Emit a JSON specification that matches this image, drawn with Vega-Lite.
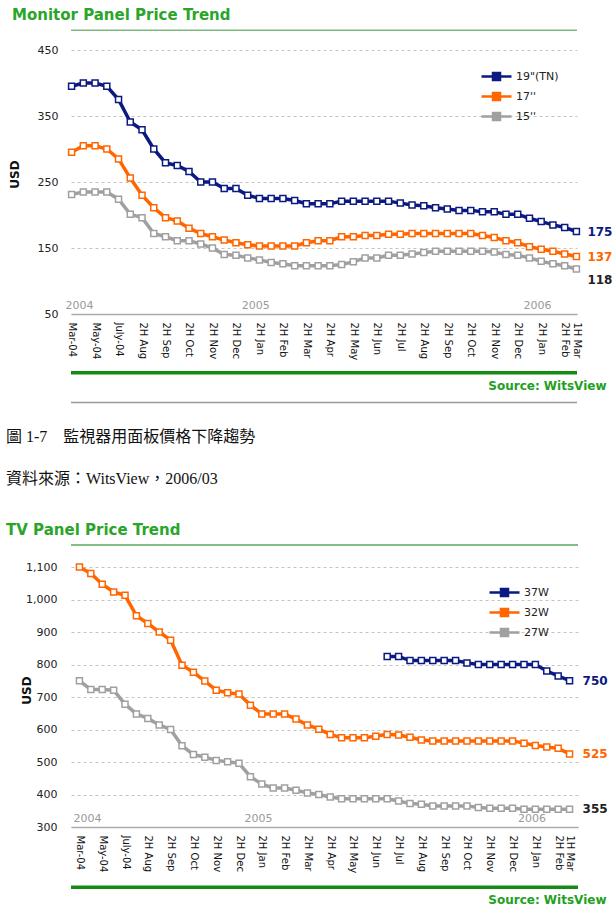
{
  "$schema": "https://vega.github.io/schema/vega-lite/v6.json",
  "background": "white",
  "padding": {"left": 6, "top": 8, "right": 0, "bottom": 0},
  "columns": 1,
  "spacing": 25,
  "resolve": {"scale": {"color": "independent"}, "legend": {"color": "independent"}},
  "config": {"view": {"stroke": null}},
  "datasets": {
    "monitor": [
      {"period":"Mar-04","size":"19\"(TN)","price":395},{"period":"Apr-04","size":"19\"(TN)","price":400},{"period":"May-04","size":"19\"(TN)","price":400},{"period":"Jun-04","size":"19\"(TN)","price":395},{"period":"July-04","size":"19\"(TN)","price":375},{"period":"1H Aug 04","size":"19\"(TN)","price":341},{"period":"2H Aug 04","size":"19\"(TN)","price":329},{"period":"1H Sep 04","size":"19\"(TN)","price":300},{"period":"2H Sep 04","size":"19\"(TN)","price":279},{"period":"1H Oct 04","size":"19\"(TN)","price":275},{"period":"2H Oct 04","size":"19\"(TN)","price":266},{"period":"1H Nov 04","size":"19\"(TN)","price":250},{"period":"2H Nov 04","size":"19\"(TN)","price":250},{"period":"1H Dec 04","size":"19\"(TN)","price":240},{"period":"2H Dec 04","size":"19\"(TN)","price":240},{"period":"1H Jan 05","size":"19\"(TN)","price":230},{"period":"2H Jan 05","size":"19\"(TN)","price":225},{"period":"1H Feb 05","size":"19\"(TN)","price":225},{"period":"2H Feb 05","size":"19\"(TN)","price":225},{"period":"1H Mar 05","size":"19\"(TN)","price":222},{"period":"2H Mar 05","size":"19\"(TN)","price":217},{"period":"1H Apr 05","size":"19\"(TN)","price":217},{"period":"2H Apr 05","size":"19\"(TN)","price":217},{"period":"1H May 05","size":"19\"(TN)","price":221},{"period":"2H May 05","size":"19\"(TN)","price":221},{"period":"1H Jun 05","size":"19\"(TN)","price":221},{"period":"2H Jun 05","size":"19\"(TN)","price":221},{"period":"1H Jul 05","size":"19\"(TN)","price":221},{"period":"2H Jul 05","size":"19\"(TN)","price":218},{"period":"1H Aug 05","size":"19\"(TN)","price":215},{"period":"2H Aug 05","size":"19\"(TN)","price":214},{"period":"1H Sep 05","size":"19\"(TN)","price":211},{"period":"2H Sep 05","size":"19\"(TN)","price":209},{"period":"1H Oct 05","size":"19\"(TN)","price":207},{"period":"2H Oct 05","size":"19\"(TN)","price":207},{"period":"1H Nov 05","size":"19\"(TN)","price":205},{"period":"2H Nov 05","size":"19\"(TN)","price":205},{"period":"1H Dec 05","size":"19\"(TN)","price":201},{"period":"2H Dec 05","size":"19\"(TN)","price":201},{"period":"1H Jan 06","size":"19\"(TN)","price":195},{"period":"2H Jan 06","size":"19\"(TN)","price":190},{"period":"1H Feb 06","size":"19\"(TN)","price":185},{"period":"2H Feb 06","size":"19\"(TN)","price":181},{"period":"1H Mar 06","size":"19\"(TN)","price":175},
      {"period":"Mar-04","size":"17''","price":295},{"period":"Apr-04","size":"17''","price":305},{"period":"May-04","size":"17''","price":305},{"period":"Jun-04","size":"17''","price":300},{"period":"July-04","size":"17''","price":285},{"period":"1H Aug 04","size":"17''","price":256},{"period":"2H Aug 04","size":"17''","price":230},{"period":"1H Sep 04","size":"17''","price":211},{"period":"2H Sep 04","size":"17''","price":196},{"period":"1H Oct 04","size":"17''","price":191},{"period":"2H Oct 04","size":"17''","price":180},{"period":"1H Nov 04","size":"17''","price":172},{"period":"2H Nov 04","size":"17''","price":167},{"period":"1H Dec 04","size":"17''","price":162},{"period":"2H Dec 04","size":"17''","price":158},{"period":"1H Jan 05","size":"17''","price":155},{"period":"2H Jan 05","size":"17''","price":153},{"period":"1H Feb 05","size":"17''","price":153},{"period":"2H Feb 05","size":"17''","price":153},{"period":"1H Mar 05","size":"17''","price":153},{"period":"2H Mar 05","size":"17''","price":158},{"period":"1H Apr 05","size":"17''","price":161},{"period":"2H Apr 05","size":"17''","price":161},{"period":"1H May 05","size":"17''","price":167},{"period":"2H May 05","size":"17''","price":167},{"period":"1H Jun 05","size":"17''","price":169},{"period":"2H Jun 05","size":"17''","price":169},{"period":"1H Jul 05","size":"17''","price":171},{"period":"2H Jul 05","size":"17''","price":171},{"period":"1H Aug 05","size":"17''","price":172},{"period":"2H Aug 05","size":"17''","price":172},{"period":"1H Sep 05","size":"17''","price":172},{"period":"2H Sep 05","size":"17''","price":172},{"period":"1H Oct 05","size":"17''","price":172},{"period":"2H Oct 05","size":"17''","price":172},{"period":"1H Nov 05","size":"17''","price":169},{"period":"2H Nov 05","size":"17''","price":166},{"period":"1H Dec 05","size":"17''","price":161},{"period":"2H Dec 05","size":"17''","price":158},{"period":"1H Jan 06","size":"17''","price":152},{"period":"2H Jan 06","size":"17''","price":148},{"period":"1H Feb 06","size":"17''","price":145},{"period":"2H Feb 06","size":"17''","price":141},{"period":"1H Mar 06","size":"17''","price":137},
      {"period":"Mar-04","size":"15''","price":231},{"period":"Apr-04","size":"15''","price":235},{"period":"May-04","size":"15''","price":235},{"period":"Jun-04","size":"15''","price":235},{"period":"July-04","size":"15''","price":224},{"period":"1H Aug 04","size":"15''","price":201},{"period":"2H Aug 04","size":"15''","price":196},{"period":"1H Sep 04","size":"15''","price":172},{"period":"2H Sep 04","size":"15''","price":167},{"period":"1H Oct 04","size":"15''","price":161},{"period":"2H Oct 04","size":"15''","price":161},{"period":"1H Nov 04","size":"15''","price":156},{"period":"2H Nov 04","size":"15''","price":150},{"period":"1H Dec 04","size":"15''","price":140},{"period":"2H Dec 04","size":"15''","price":139},{"period":"1H Jan 05","size":"15''","price":135},{"period":"2H Jan 05","size":"15''","price":132},{"period":"1H Feb 05","size":"15''","price":128},{"period":"2H Feb 05","size":"15''","price":126},{"period":"1H Mar 05","size":"15''","price":123},{"period":"2H Mar 05","size":"15''","price":123},{"period":"1H Apr 05","size":"15''","price":123},{"period":"2H Apr 05","size":"15''","price":123},{"period":"1H May 05","size":"15''","price":125},{"period":"2H May 05","size":"15''","price":129},{"period":"1H Jun 05","size":"15''","price":135},{"period":"2H Jun 05","size":"15''","price":135},{"period":"1H Jul 05","size":"15''","price":139},{"period":"2H Jul 05","size":"15''","price":139},{"period":"1H Aug 05","size":"15''","price":141},{"period":"2H Aug 05","size":"15''","price":143},{"period":"1H Sep 05","size":"15''","price":145},{"period":"2H Sep 05","size":"15''","price":145},{"period":"1H Oct 05","size":"15''","price":145},{"period":"2H Oct 05","size":"15''","price":145},{"period":"1H Nov 05","size":"15''","price":145},{"period":"2H Nov 05","size":"15''","price":144},{"period":"1H Dec 05","size":"15''","price":140},{"period":"2H Dec 05","size":"15''","price":139},{"period":"1H Jan 06","size":"15''","price":135},{"period":"2H Jan 06","size":"15''","price":130},{"period":"1H Feb 06","size":"15''","price":126},{"period":"2H Feb 06","size":"15''","price":123},{"period":"1H Mar 06","size":"15''","price":118}
    ],
    "tv": [
      {"period":"Mar-04","size":"32W","price":1100},{"period":"Apr-04","size":"32W","price":1080},{"period":"May-04","size":"32W","price":1047},{"period":"Jun-04","size":"32W","price":1023},{"period":"July-04","size":"32W","price":1013},{"period":"1H Aug 04","size":"32W","price":950},{"period":"2H Aug 04","size":"32W","price":926},{"period":"1H Sep 04","size":"32W","price":900},{"period":"2H Sep 04","size":"32W","price":875},{"period":"1H Oct 04","size":"32W","price":798},{"period":"2H Oct 04","size":"32W","price":776},{"period":"1H Nov 04","size":"32W","price":749},{"period":"2H Nov 04","size":"32W","price":721},{"period":"1H Dec 04","size":"32W","price":713},{"period":"2H Dec 04","size":"32W","price":709},{"period":"1H Jan 05","size":"32W","price":675},{"period":"2H Jan 05","size":"32W","price":648},{"period":"1H Feb 05","size":"32W","price":648},{"period":"2H Feb 05","size":"32W","price":648},{"period":"1H Mar 05","size":"32W","price":632},{"period":"2H Mar 05","size":"32W","price":614},{"period":"1H Apr 05","size":"32W","price":601},{"period":"2H Apr 05","size":"32W","price":585},{"period":"1H May 05","size":"32W","price":575},{"period":"2H May 05","size":"32W","price":575},{"period":"1H Jun 05","size":"32W","price":575},{"period":"2H Jun 05","size":"32W","price":579},{"period":"1H Jul 05","size":"32W","price":585},{"period":"2H Jul 05","size":"32W","price":583},{"period":"1H Aug 05","size":"32W","price":576},{"period":"2H Aug 05","size":"32W","price":568},{"period":"1H Sep 05","size":"32W","price":565},{"period":"2H Sep 05","size":"32W","price":565},{"period":"1H Oct 05","size":"32W","price":565},{"period":"2H Oct 05","size":"32W","price":565},{"period":"1H Nov 05","size":"32W","price":565},{"period":"2H Nov 05","size":"32W","price":565},{"period":"1H Dec 05","size":"32W","price":565},{"period":"2H Dec 05","size":"32W","price":565},{"period":"1H Jan 06","size":"32W","price":558},{"period":"2H Jan 06","size":"32W","price":551},{"period":"1H Feb 06","size":"32W","price":546},{"period":"2H Feb 06","size":"32W","price":542},{"period":"1H Mar 06","size":"32W","price":525},
      {"period":"Mar-04","size":"27W","price":750},{"period":"Apr-04","size":"27W","price":723},{"period":"May-04","size":"27W","price":723},{"period":"Jun-04","size":"27W","price":721},{"period":"July-04","size":"27W","price":678},{"period":"1H Aug 04","size":"27W","price":648},{"period":"2H Aug 04","size":"27W","price":634},{"period":"1H Sep 04","size":"27W","price":614},{"period":"2H Sep 04","size":"27W","price":600},{"period":"1H Oct 04","size":"27W","price":550},{"period":"2H Oct 04","size":"27W","price":523},{"period":"1H Nov 04","size":"27W","price":515},{"period":"2H Nov 04","size":"27W","price":505},{"period":"1H Dec 04","size":"27W","price":501},{"period":"2H Dec 04","size":"27W","price":496},{"period":"1H Jan 05","size":"27W","price":455},{"period":"2H Jan 05","size":"27W","price":432},{"period":"1H Feb 05","size":"27W","price":420},{"period":"2H Feb 05","size":"27W","price":420},{"period":"1H Mar 05","size":"27W","price":413},{"period":"2H Mar 05","size":"27W","price":405},{"period":"1H Apr 05","size":"27W","price":400},{"period":"2H Apr 05","size":"27W","price":392},{"period":"1H May 05","size":"27W","price":387},{"period":"2H May 05","size":"27W","price":387},{"period":"1H Jun 05","size":"27W","price":387},{"period":"2H Jun 05","size":"27W","price":387},{"period":"1H Jul 05","size":"27W","price":387},{"period":"2H Jul 05","size":"27W","price":380},{"period":"1H Aug 05","size":"27W","price":372},{"period":"2H Aug 05","size":"27W","price":370},{"period":"1H Sep 05","size":"27W","price":365},{"period":"2H Sep 05","size":"27W","price":365},{"period":"1H Oct 05","size":"27W","price":365},{"period":"2H Oct 05","size":"27W","price":365},{"period":"1H Nov 05","size":"27W","price":360},{"period":"2H Nov 05","size":"27W","price":358},{"period":"1H Dec 05","size":"27W","price":358},{"period":"2H Dec 05","size":"27W","price":358},{"period":"1H Jan 06","size":"27W","price":355},{"period":"2H Jan 06","size":"27W","price":355},{"period":"1H Feb 06","size":"27W","price":355},{"period":"2H Feb 06","size":"27W","price":355},{"period":"1H Mar 06","size":"27W","price":355},
      {"period":"1H Jul 05","size":"37W","price":825},{"period":"2H Jul 05","size":"37W","price":825},{"period":"1H Aug 05","size":"37W","price":812},{"period":"2H Aug 05","size":"37W","price":812},{"period":"1H Sep 05","size":"37W","price":812},{"period":"2H Sep 05","size":"37W","price":812},{"period":"1H Oct 05","size":"37W","price":812},{"period":"2H Oct 05","size":"37W","price":805},{"period":"1H Nov 05","size":"37W","price":800},{"period":"2H Nov 05","size":"37W","price":800},{"period":"1H Dec 05","size":"37W","price":800},{"period":"2H Dec 05","size":"37W","price":800},{"period":"1H Jan 06","size":"37W","price":800},{"period":"2H Jan 06","size":"37W","price":800},{"period":"1H Feb 06","size":"37W","price":780},{"period":"2H Feb 06","size":"37W","price":765},{"period":"1H Mar 06","size":"37W","price":750}
    ]
  },
  "concat": [
    {
      "width": 506,
      "height": 264,
      "title": {"text": "Monitor Panel Price Trend", "anchor": "start", "frame": "bounds", "dx": 4, "font": "DejaVu Sans", "fontSize": 15, "fontWeight": "bold", "color": "#2aa52a", "offset": 6},
      "resolve": {"axis": {"y": "independent"}},
      "layer": [
        {
          "data": {"name": "monitor"},
          "resolve": {"axis": {"y": "independent"}},
          "encoding": {
            "x": {
              "field": "period", "type": "ordinal",
              "scale": {"type": "point", "padding": 0.05, "domain": ["Mar-04","Apr-04","May-04","Jun-04","July-04","1H Aug 04","2H Aug 04","1H Sep 04","2H Sep 04","1H Oct 04","2H Oct 04","1H Nov 04","2H Nov 04","1H Dec 04","2H Dec 04","1H Jan 05","2H Jan 05","1H Feb 05","2H Feb 05","1H Mar 05","2H Mar 05","1H Apr 05","2H Apr 05","1H May 05","2H May 05","1H Jun 05","2H Jun 05","1H Jul 05","2H Jul 05","1H Aug 05","2H Aug 05","1H Sep 05","2H Sep 05","1H Oct 05","2H Oct 05","1H Nov 05","2H Nov 05","1H Dec 05","2H Dec 05","1H Jan 06","2H Jan 06","1H Feb 06","2H Feb 06","1H Mar 06"]},
              "axis": {
                "values": ["Mar-04","May-04","July-04","2H Aug 04","2H Sep 04","2H Oct 04","2H Nov 04","2H Dec 04","2H Jan 05","2H Feb 05","2H Mar 05","2H Apr 05","2H May 05","2H Jun 05","2H Jul 05","2H Aug 05","2H Sep 05","2H Oct 05","2H Nov 05","2H Dec 05","2H Jan 06","2H Feb 06","1H Mar 06"],
                "labelExpr": "indexof(datum.value, 'H ') == 1 ? substring(datum.value, 0, 6) : datum.value",
                "labelAngle": 90, "labelAlign": "left", "labelBaseline": "middle", "labelPadding": 8,
                "labelFont": "DejaVu Sans", "labelFontSize": 10, "labelColor": "#111111", "labelOverlap": false,
                "ticks": false, "grid": false, "domainColor": "#aaaaaa", "domainWidth": 1.5,
                "title": "Source: WitsView", "titleColor": "#22a022", "titleFont": "DejaVu Sans", "titleFontSize": 12, "titleFontWeight": "bold",
                "titleAlign": "right", "titleBaseline": "middle", "titleX": 535, "titleY": 71
              }
            }
          },
          "layer": [
            {
              "mark": {"type": "line", "strokeWidth": 3.5, "point": {"shape": "square", "filled": false, "fill": "white", "size": 36, "strokeWidth": 1.5, "opacity": 1}},
              "encoding": {
                "y": {
                  "field": "price", "type": "quantitative",
                  "scale": {"domain": [50, 450], "nice": false, "zero": false},
                  "axis": {
                    "values": [50, 150, 250, 350, 450], "format": ",.0f", "domain": false, "ticks": false,
                    "grid": true, "gridDash": [3, 3], "gridColor": "#c4c4c4",
                    "labelFont": "DejaVu Sans", "labelFontSize": 11, "labelColor": "#222222", "labelPadding": 13,
                    "title": "USD", "titleAlign": "center", "titleBaseline": "middle", "titleX": -57, "titleY": 124,
                    "titleFont": "DejaVu Sans", "titleFontSize": 12, "titleFontWeight": "bold", "titleColor": "#111111"
                  }
                },
                "order": {"value": null},
                "color": {
                  "field": "size", "type": "nominal",
                  "scale": {"domain": ["19\"(TN)", "17''", "15''"], "range": ["#0a1a80", "#ff6600", "#a0a0a0"]},
                  "legend": {"orient": "none", "legendX": 414, "legendY": 15, "title": null,
                    "symbolType": "M-1.5,0H-0.35M0.35,0H1.5M-0.35,-0.35H0.35V0.35H-0.35Z", "symbolSize": 400, "symbolStrokeWidth": 2.5, "symbolFillColor": "white",
                    "encoding": {"symbols": {"fill": {"value": "white"}}},
                    "labelFont": "DejaVu Sans", "labelFontSize": 11, "labelColor": "#222222", "labelOffset": 8, "rowPadding": 0, "padding": 0}
                }
              }
            },
            {
              "transform": [{"filter": "datum.period == '1H Mar 06' && indexof(datum.size, '15') != 0"}],
              "mark": {"type": "text", "align": "left", "dx": 11, "font": "DejaVu Sans", "fontSize": 12, "fontWeight": "bold"},
              "encoding": {"y": {"field": "price", "type": "quantitative", "axis": null}, "text": {"field": "price", "type": "quantitative"}, "color": {"field": "size", "type": "nominal"}}
            },
            {
              "transform": [{"filter": "datum.period == '1H Mar 06' && indexof(datum.size, '15') == 0"}],
              "mark": {"type": "text", "align": "left", "dx": 11, "dy": 11, "font": "DejaVu Sans", "fontSize": 12, "fontWeight": "bold", "color": "#222222"},
              "encoding": {"y": {"field": "price", "type": "quantitative", "axis": null}, "text": {"field": "price", "type": "quantitative"}}
            },
            {
              "data": {"values": [{"year": "2004", "period": "Mar-04"}, {"year": "2005", "period": "1H Jan 05"}, {"year": "2006", "period": "1H Jan 06"}]},
              "mark": {"type": "text", "align": "left", "baseline": "bottom", "dx": -6, "dy": -3, "font": "DejaVu Sans", "fontSize": 11, "color": "#9a9a9a"},
              "encoding": {"y": {"datum": 50, "type": "quantitative", "axis": null}, "text": {"field": "year", "type": "nominal"}}
            }
          ]
        },
        {"data": {"values": [{}]}, "mark": {"type": "rule", "color": "#7fb87f", "strokeWidth": 1.5, "clip": false}, "encoding": {"y": {"datum": 480, "type": "quantitative", "axis": null}}},
        {"data": {"values": [{}]}, "mark": {"type": "rule", "color": "#158a15", "strokeWidth": 3.5, "clip": false}, "encoding": {"y": {"datum": -39, "type": "quantitative", "axis": null}}},
        {"data": {"values": [{}]}, "mark": {"type": "rule", "color": "#999999", "strokeWidth": 1.5, "clip": false}, "encoding": {"y": {"datum": -84, "type": "quantitative", "axis": null}}}
      ]
    },
    {
      "width": 507,
      "height": 260,
      "title": {
        "text": ["圖 1-7　監視器用面板價格下降趨勢", "資料來源：WitsView，2006/03"],
        "subtitle": "TV Panel Price Trend",
        "anchor": "start", "frame": "bounds", "dx": -14, "offset": 6,
        "font": "Liberation Serif, Noto Sans CJK TC", "fontSize": 16, "fontWeight": "normal", "color": "#111111", "lineHeight": 42,
        "subtitleFont": "DejaVu Sans", "subtitleFontSize": 15, "subtitleFontWeight": "bold", "subtitleColor": "#2aa52a", "subtitlePadding": 36
      },
      "resolve": {"axis": {"y": "independent"}},
      "layer": [
        {
          "data": {"name": "tv"},
          "resolve": {"axis": {"y": "independent"}},
          "encoding": {
            "x": {
              "field": "period", "type": "ordinal",
              "scale": {"type": "point", "padding": 0.74, "domain": ["Mar-04","Apr-04","May-04","Jun-04","July-04","1H Aug 04","2H Aug 04","1H Sep 04","2H Sep 04","1H Oct 04","2H Oct 04","1H Nov 04","2H Nov 04","1H Dec 04","2H Dec 04","1H Jan 05","2H Jan 05","1H Feb 05","2H Feb 05","1H Mar 05","2H Mar 05","1H Apr 05","2H Apr 05","1H May 05","2H May 05","1H Jun 05","2H Jun 05","1H Jul 05","2H Jul 05","1H Aug 05","2H Aug 05","1H Sep 05","2H Sep 05","1H Oct 05","2H Oct 05","1H Nov 05","2H Nov 05","1H Dec 05","2H Dec 05","1H Jan 06","2H Jan 06","1H Feb 06","2H Feb 06","1H Mar 06"]},
              "axis": {
                "values": ["Mar-04","May-04","July-04","2H Aug 04","2H Sep 04","2H Oct 04","2H Nov 04","2H Dec 04","2H Jan 05","2H Feb 05","2H Mar 05","2H Apr 05","2H May 05","2H Jun 05","2H Jul 05","2H Aug 05","2H Sep 05","2H Oct 05","2H Nov 05","2H Dec 05","2H Jan 06","2H Feb 06","1H Mar 06"],
                "labelExpr": "indexof(datum.value, 'H ') == 1 ? substring(datum.value, 0, 6) : datum.value",
                "labelAngle": 90, "labelAlign": "left", "labelBaseline": "middle", "labelPadding": 8,
                "labelFont": "DejaVu Sans", "labelFontSize": 10, "labelColor": "#111111", "labelOverlap": false,
                "ticks": false, "grid": false, "domainColor": "#aaaaaa", "domainWidth": 1.5,
                "title": "Source: WitsView", "titleColor": "#22a022", "titleFont": "DejaVu Sans", "titleFontSize": 12, "titleFontWeight": "bold",
                "titleAlign": "right", "titleBaseline": "middle", "titleX": 535, "titleY": 72
              }
            }
          },
          "layer": [
            {
              "mark": {"type": "line", "strokeWidth": 3.5, "point": {"shape": "square", "filled": false, "fill": "white", "size": 36, "strokeWidth": 1.5, "opacity": 1}},
              "encoding": {
                "y": {
                  "field": "price", "type": "quantitative",
                  "scale": {"domain": [300, 1100], "nice": false, "zero": false},
                  "axis": {
                    "values": [300, 400, 500, 600, 700, 800, 900, 1000, 1100], "format": ",.0f", "domain": false, "ticks": false,
                    "grid": true, "gridDash": [3, 3], "gridColor": "#c4c4c4",
                    "labelFont": "DejaVu Sans", "labelFontSize": 11, "labelColor": "#222222", "labelPadding": 14,
                    "title": "USD", "titleAlign": "center", "titleBaseline": "middle", "titleX": -45, "titleY": 123,
                    "titleFont": "DejaVu Sans", "titleFontSize": 12, "titleFontWeight": "bold", "titleColor": "#111111"
                  }
                },
                "order": {"value": null},
                "color": {
                  "field": "size", "type": "nominal",
                  "scale": {"domain": ["37W", "32W", "27W"], "range": ["#0a1a80", "#ff6600", "#a0a0a0"]},
                  "legend": {"orient": "none", "legendX": 422, "legendY": 14, "title": null,
                    "symbolType": "M-1.5,0H-0.35M0.35,0H1.5M-0.35,-0.35H0.35V0.35H-0.35Z", "symbolSize": 400, "symbolStrokeWidth": 2.5, "symbolFillColor": "white",
                    "encoding": {"symbols": {"fill": {"value": "white"}}},
                    "labelFont": "DejaVu Sans", "labelFontSize": 11, "labelColor": "#222222", "labelOffset": 8, "rowPadding": 0, "padding": 0}
                }
              }
            },
            {
              "transform": [{"filter": "datum.period == '1H Mar 06'"}],
              "mark": {"type": "text", "align": "left", "dx": 13, "font": "DejaVu Sans", "fontSize": 12, "fontWeight": "bold"},
              "encoding": {
                "y": {"field": "price", "type": "quantitative", "axis": null},
                "text": {"field": "price", "type": "quantitative"},
                "color": {"field": "size", "type": "nominal", "condition": {"test": "datum.size == '27W'", "value": "#222222"}}
              }
            },
            {
              "data": {"values": [{"year": "2004", "period": "Mar-04"}, {"year": "2005", "period": "1H Jan 05"}, {"year": "2006", "period": "1H Jan 06"}]},
              "mark": {"type": "text", "align": "left", "baseline": "bottom", "dx": -6, "dy": -3, "font": "DejaVu Sans", "fontSize": 11, "color": "#9a9a9a"},
              "encoding": {"y": {"datum": 300, "type": "quantitative", "axis": null}, "text": {"field": "year", "type": "nominal"}}
            }
          ]
        },
        {"data": {"values": [{}]}, "mark": {"type": "rule", "color": "#5aaa5a", "strokeWidth": 1.5, "clip": false}, "encoding": {"y": {"datum": 1168, "type": "quantitative", "axis": null}}},
        {"data": {"values": [{}]}, "mark": {"type": "rule", "color": "#158a15", "strokeWidth": 3.5, "clip": false}, "encoding": {"y": {"datum": 115, "type": "quantitative", "axis": null}}}
      ]
    }
  ]
}
